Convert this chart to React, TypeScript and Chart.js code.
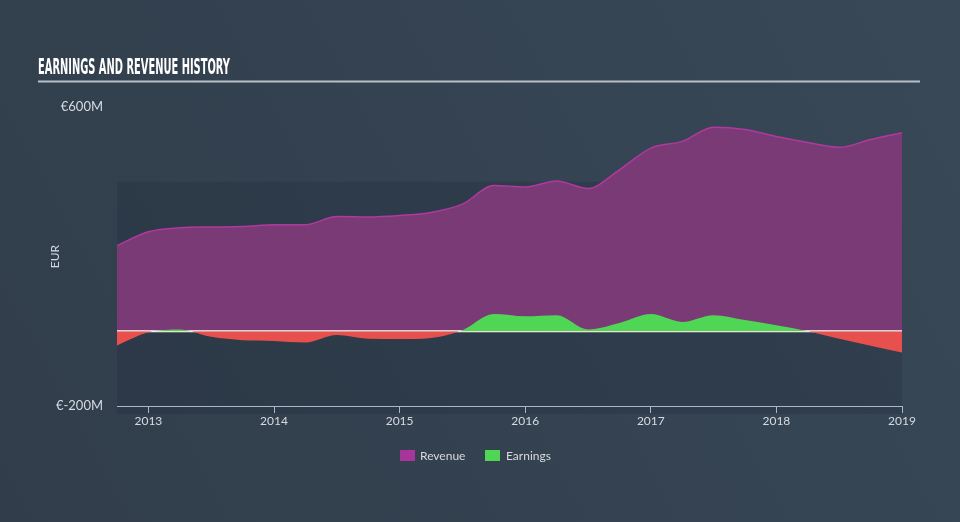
import { useEffect, useRef } from "react";
import { Chart, registerables } from "chart.js";

Chart.register(...registerables);

// Quarter-end timestamps (decimal years)
const quarters = [
  2012.75, 2013.0, 2013.25, 2013.5, 2013.75, 2014.0, 2014.25, 2014.5, 2014.75,
  2015.0, 2015.25, 2015.5, 2015.75, 2016.0, 2016.25, 2016.5, 2016.75, 2017.0,
  2017.25, 2017.5, 2017.75, 2018.0, 2018.25, 2018.5, 2018.75, 2019.0,
];
// EUR millions
const revenue = [
  229, 266, 277, 279, 280, 285, 285, 307, 306, 310, 318, 340, 390, 386, 402,
  382, 432, 490, 508, 546, 540, 521, 505, 492, 513, 531,
];
const earnings = [
  -38, -3, 5, -15, -24, -26, -30, -10, -20, -21, -18, 3, 46, 40, 43, 5, 22, 46,
  25, 43, 30, 16, 0, -20, -39, -57,
];
const yearTicks = [2013, 2014, 2015, 2016, 2017, 2018, 2019];
const yTicks = [-200, 600];
const bandTop = 400;
const seriesNames = ["Revenue", "Earnings"];
const titleText = "EARNINGS AND REVENUE HISTORY";
const yAxisTitle = "EUR";

const FONT = "Lato, 'Open Sans', sans-serif";
const REV_FILL = "#7a3a76";
const REV_LINE = "#b0399e";
const REV_SWATCH = "#a8369a";
const GREEN = "#4fd654";
const RED = "#e8504e";
const TEXT = "#d6dbe0";

export default function App() {
  const ref = useRef<HTMLCanvasElement | null>(null);

  useEffect(() => {
    const canvas = ref.current;
    if (!canvas) return;

    const bgPlugin = {
      id: "bg",
      beforeDraw(chart: any) {
        const { ctx, width, height, chartArea, scales } = chart;
        ctx.save();
        const g = ctx.createLinearGradient(0, height, width, 0);
        g.addColorStop(0, "#313d4b");
        g.addColorStop(1, "#384857");
        ctx.fillStyle = g;
        ctx.fillRect(0, 0, width, height);
        const yTop = scales.y.getPixelForValue(bandTop);
        ctx.fillStyle = "rgba(38,50,64,0.4)";
        ctx.fillRect(chartArea.left, yTop, chartArea.right - chartArea.left, chartArea.bottom + 8 - yTop);
        ctx.restore();
      },
    };

    const zeroLinePlugin = {
      id: "zeroLine",
      afterDatasetDraw(chart: any, args: any) {
        if (args.index !== 1) return;
        const { ctx, chartArea, scales } = chart;
        const y0 = scales.y.getPixelForValue(0);
        ctx.save();
        ctx.strokeStyle = "#ffffff";
        ctx.lineWidth = 2;
        ctx.beginPath();
        ctx.moveTo(chartArea.left, y0);
        ctx.lineTo(chartArea.right, y0);
        ctx.stroke();
        ctx.restore();
      },
    };

    const decorPlugin = {
      id: "decor",
      afterDraw(chart: any) {
        const { ctx } = chart;
        ctx.save();
        // title
        ctx.font = `bold 20px 'Liberation Sans Narrow', 'DejaVu Sans Condensed', sans-serif`;
        ctx.fillStyle = "#ffffff";
        ctx.textBaseline = "alphabetic";
        const w = ctx.measureText(titleText).width;
        ctx.translate(38, 74);
        ctx.scale(192 / w, 1.02);
        ctx.fillText(titleText, 0, 0);
        ctx.restore();
        ctx.save();
        ctx.fillStyle = "#b9bfc6";
        ctx.fillRect(38, 80.5, 882, 2);
        // legend
        ctx.font = `12px ${FONT}`;
        ctx.textBaseline = "middle";
        ctx.fillStyle = REV_SWATCH;
        ctx.fillRect(400, 450, 15, 11);
        ctx.fillStyle = TEXT;
        ctx.fillText(seriesNames[0], 420, 456);
        ctx.fillStyle = GREEN;
        ctx.fillRect(485, 450, 15, 11);
        ctx.fillStyle = TEXT;
        ctx.fillText(seriesNames[1], 506, 456);
        ctx.restore();
      },
    };

    const chart = new Chart(canvas, {
      type: "line",
      data: {
        datasets: [
          {
            label: seriesNames[1],
            data: quarters.map((x, i) => ({ x, y: earnings[i] })),
            borderWidth: 0,
            borderColor: GREEN,
            pointRadius: 0,
            cubicInterpolationMode: "monotone",
            fill: { target: "origin", above: GREEN, below: RED },
          },
          {
            label: seriesNames[0],
            data: quarters.map((x, i) => ({ x, y: revenue[i] })),
            borderWidth: 1.5,
            borderColor: REV_LINE,
            backgroundColor: REV_FILL,
            pointRadius: 0,
            cubicInterpolationMode: "monotone",
            fill: "origin",
          },
        ],
      },
      options: {
        animation: false,
        responsive: false,
        maintainAspectRatio: false,
        layout: { padding: { left: 0, right: 58, top: 107, bottom: 86 } },
        plugins: {
          legend: { display: false },
          tooltip: { enabled: false },
        },
        scales: {
          x: {
            type: "linear",
            min: quarters[0],
            max: quarters[quarters.length - 1],
            afterBuildTicks(scale: any) {
              scale.ticks = yearTicks.map((v) => ({ value: v }));
            },
            afterFit(scale: any) {
              scale.height = 30;
            },
            grid: {
              drawOnChartArea: false,
              drawTicks: true,
              tickLength: 7,
              color: "#a9b8c8",
            },
            border: { display: true, color: "#a9b8c8", width: 1 },
            ticks: {
              color: TEXT,
              font: { family: FONT, size: 12 },
              padding: 1,
              maxRotation: 0,
              autoSkip: false,
              callback: (v: any) => String(v),
            },
          },
          y: {
            min: yTicks[0],
            max: yTicks[1],
            afterBuildTicks(scale: any) {
              scale.ticks = yTicks.map((v) => ({ value: v }));
            },
            afterFit(scale: any) {
              scale.width = 117;
            },
            grid: { display: false, drawTicks: false },
            border: { display: false },
            ticks: {
              color: TEXT,
              font: { family: FONT, size: 13 },
              padding: 14,
              callback: (v: any) => `€${v}M`,
            },
            title: {
              display: true,
              text: yAxisTitle,
              color: TEXT,
              font: { family: FONT, size: 12 },
              padding: { top: 48, bottom: 0 },
            },
          },
        },
      },
      plugins: [bgPlugin, zeroLinePlugin, decorPlugin],
    } as any);

    return () => chart.destroy();
  }, []);

  return (
    <div style={{ position: "fixed", left: 0, top: 0, width: 960, height: 522 }}>
      <canvas ref={ref} width={960} height={522} style={{ display: "block", width: 960, height: 522 }} />
    </div>
  );
}
